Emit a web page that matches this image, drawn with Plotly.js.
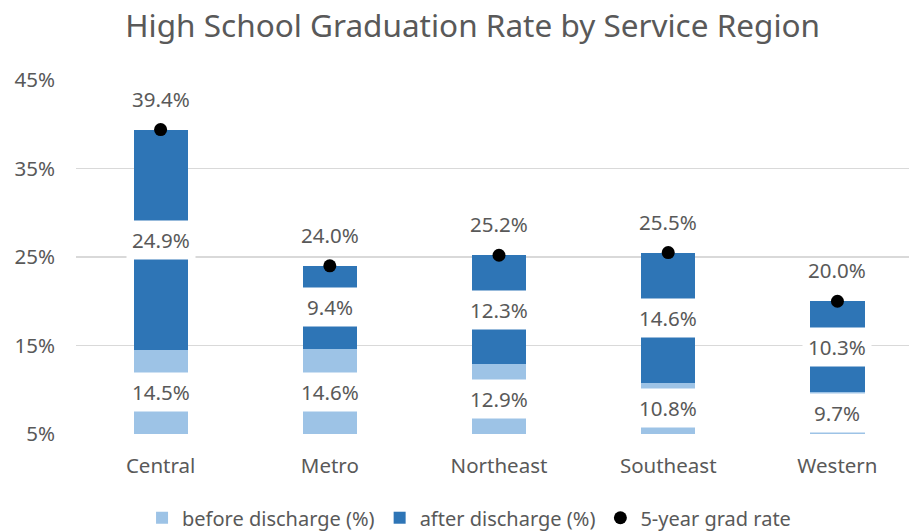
<!DOCTYPE html>
<html>
<head>
<meta charset="utf-8">
<script src="https://cdn.plot.ly/plotly-3.0.1.min.js"></script>
<style>html,body{margin:0;padding:0;background:#fff;}#chart{width:909px;height:531px;}</style>
</head>
<body>
<div id="chart"></div>
<script>
const categories = ['Central', 'Metro', 'Northeast', 'Southeast', 'Western'];
const beforeDischarge = [14.5, 14.6, 12.9, 10.8, 9.7];
const afterDischarge = [24.9, 9.4, 12.3, 14.6, 10.3];
const gradRate5yr = [39.4, 24.0, 25.2, 25.5, 20.0];
const yTicks = [5, 15, 25, 35, 45];

const FONT = 'Noto Sans, Open Sans, sans-serif';
const GREY = '#595959';
const yMin = 5, yMax = 45;

const traces = [
  {type: 'bar', name: 'before discharge (%)', x: categories, y: beforeDischarge,
   marker: {color: '#9DC3E6'}, hoverinfo: 'skip'},
  {type: 'bar', name: 'after discharge (%)', x: categories, y: afterDischarge,
   marker: {color: '#2E75B6'}, hoverinfo: 'skip'},
  {type: 'scatter', mode: 'markers', name: '5-year grad rate', x: categories, y: gradRate5yr,
   marker: {color: '#000000', size: 13}, hoverinfo: 'skip'}
];

const fmt = v => v.toFixed(1) + '%';
const LBL = {family: FONT, size: 20.5, color: GREY};
const annotations = [];
categories.forEach((c, i) => {
  const b = beforeDischarge[i], a = afterDischarge[i];
  annotations.push({x: c, y: (Math.max(yMin, 0) + b) / 2, text: fmt(b), showarrow: false,
    bgcolor: '#ffffff', borderpad: 5, font: LBL});
  annotations.push({x: c, y: (b + b + a) / 2, text: fmt(a), showarrow: false,
    bgcolor: '#ffffff', borderpad: 5, font: LBL});
  annotations.push({x: c, y: gradRate5yr[i], yshift: 31, text: fmt(gradRate5yr[i]), showarrow: false,
    font: LBL});
});

const layout = {
  width: 909, height: 531,
  margin: {l: 76, r: 0, t: 80, b: 97},
  paper_bgcolor: '#ffffff', plot_bgcolor: '#ffffff',
  font: {family: FONT, color: GREY},
  title: {text: 'High School Graduation Rate by Service Region', font: {family: FONT, size: 31.5, color: GREY},
    x: 0.52, xanchor: 'center', y: 0.952, yanchor: 'middle', xref: 'container', yref: 'container'},
  barmode: 'stack', bargap: 0.68,
  showlegend: true,
  legend: {orientation: 'h', xref: 'container', x: 0.516, xanchor: 'center', yref: 'container', y: 0.025, yanchor: 'middle',
    font: {family: FONT, size: 20, color: GREY}, traceorder: 'normal', itemwidth: 30},
  xaxis: {type: 'category', range: [-0.5, 4.423], showgrid: false, zeroline: false, showline: false,
    ticks: '', ticklabelstandoff: 17, tickfont: {family: FONT, size: 20.5, color: GREY}, fixedrange: true},
  yaxis: {range: [yMin, yMax], tickvals: yTicks, ticktext: yTicks.map(v => v + '%'),
    showgrid: true, gridcolor: '#D9D9D9', gridwidth: 1.2, zeroline: false, showline: false,
    ticks: '', ticklabelstandoff: 20, tickfont: {family: FONT, size: 20.5, color: GREY}, fixedrange: true},
  annotations: annotations
};

Plotly.newPlot('chart', traces, layout, {displayModeBar: false, staticPlot: true});
</script>
</body>
</html>
